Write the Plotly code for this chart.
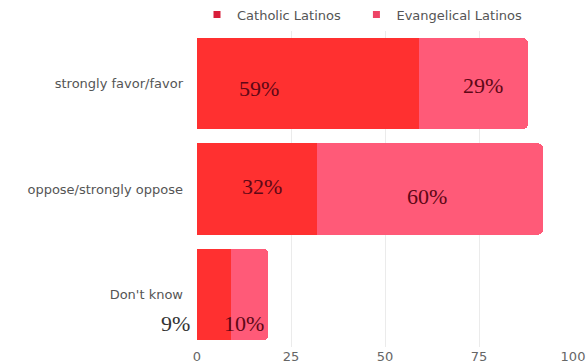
import plotly.graph_objects as go

categories = ["strongly favor/favor", "oppose/strongly oppose", "Don't know"]
catholic = [59, 32, 9]
evangelical = [29, 60, 10]
series_names = ["Catholic Latinos", "Evangelical Latinos"]
tick_vals = [0, 25, 50, 75, 100]

colors = ["#ff3030", "#ff5a78"]
legend_colors = ["#d81e3a", "#ee4466"]
legend_ids = ["legend", "legend2"]

# label style offsets (pixels) per series, per category
cath_shift = [(-49, -5), (5, 3), (-38, -29)]
evan_shift = [(10, -2), (-3, -7), (-6, -29)]

fig = go.Figure()
for name, vals, col in zip(series_names, [catholic, evangelical], colors):
    fig.add_trace(go.Bar(
        y=categories, x=vals, name=name, orientation="h",
        marker=dict(color=col, line=dict(width=0)),
        showlegend=False, hoverinfo="skip",
    ))
for name, col, lid in zip(series_names, legend_colors, legend_ids):
    fig.add_trace(go.Scatter(
        x=[None], y=[None], mode="markers", name=name, legend=lid,
        marker=dict(symbol="square", size=7, color=col),
    ))

annotations = []
for i, cat in enumerate(categories):
    c = catholic[i]
    e = evangelical[i]
    dx, dy = cath_shift[i]
    annotations.append(dict(
        x=c / 2, y=cat, xref="x", yref="y", text=f"{c}%", showarrow=False,
        xshift=dx, yshift=dy,
        font=dict(family="Liberation Serif, Georgia, serif", size=22,
                  color="#333333" if i == 2 else "#5e0716"),
    ))
    dx, dy = evan_shift[i]
    annotations.append(dict(
        x=c + e / 2, y=cat, xref="x", yref="y", text=f"{e}%", showarrow=False,
        xshift=dx, yshift=dy,
        font=dict(family="Liberation Serif, Georgia, serif", size=22, color="#5e0716"),
    ))

legend_style = dict(orientation="h", xanchor="left", y=1.052, yanchor="middle",
                    font=dict(size=13, color="#555"), itemwidth=30,
                    bgcolor="rgba(0,0,0,0)")

fig.update_layout(
    width=587, height=364,
    margin=dict(l=197, r=14, t=31, b=17, autoexpand=False),
    paper_bgcolor="white", plot_bgcolor="white",
    barmode="stack", bargap=0.133, barcornerradius=5,
    font=dict(family="DejaVu Sans, sans-serif", size=13, color="#666"),
    legend=dict(x=0.0, **legend_style),
    legend2=dict(x=0.424, **legend_style),
    annotations=annotations,
)
fig.update_xaxes(range=[0, 100], tickvals=tick_vals, showgrid=True, gridcolor="#ebebeb",
                 gridwidth=1, zeroline=False, showline=False, ticks="",
                 tickfont=dict(size=13, color="#666"), fixedrange=True)
fig.update_yaxes(categoryorder="array", categoryarray=categories[::-1],
                 showgrid=False, zeroline=False, showline=False, ticks="",
                 ticklabelstandoff=13, tickfont=dict(size=13, color="#555"), fixedrange=True)

fig.write_html("out.html")
